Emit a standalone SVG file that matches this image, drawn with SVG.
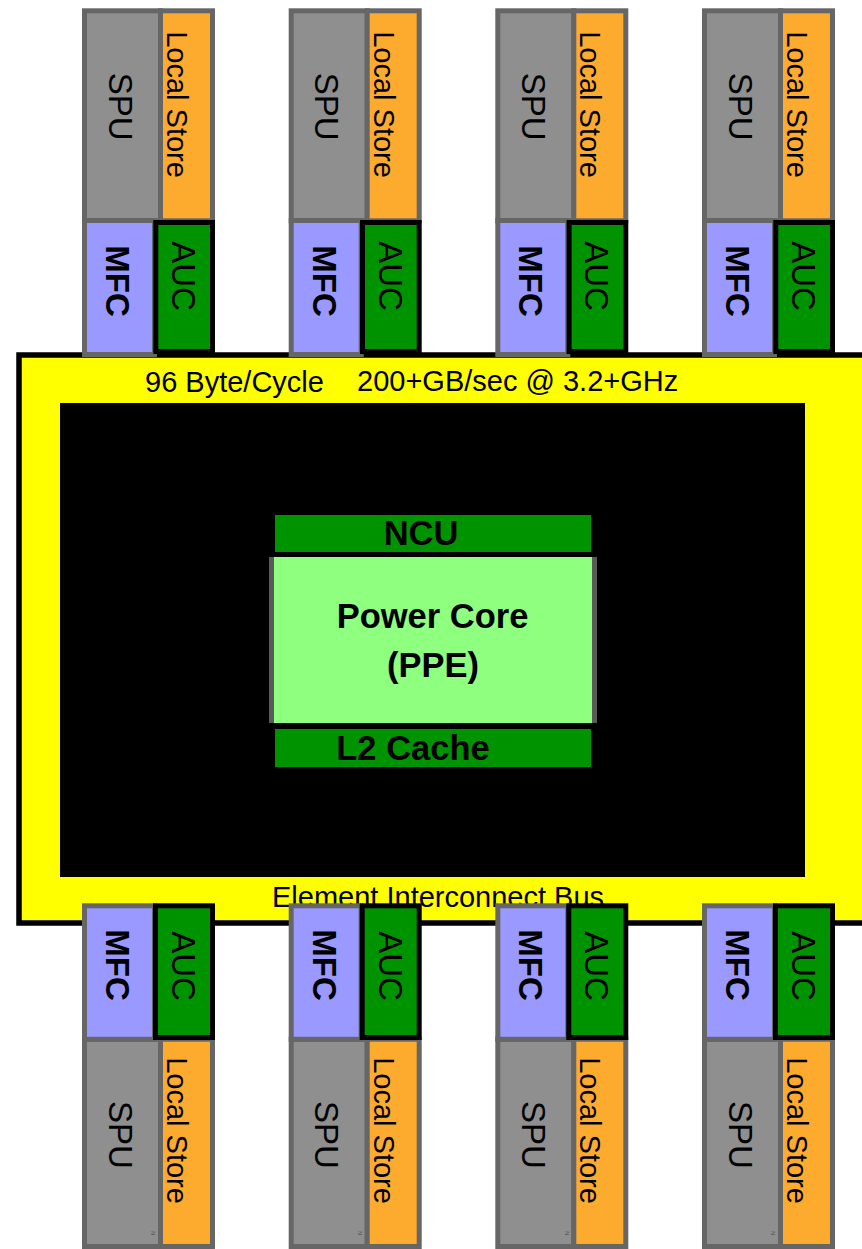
<svg xmlns="http://www.w3.org/2000/svg" width="862" height="1249" viewBox="0 0 862 1249">
<style>
.spu{fill:#8f8f8f;stroke:#666;stroke-width:5}
.ls{fill:#fdab2f;stroke:#666;stroke-width:5}
.mfc{fill:#9999ff;stroke:#666;stroke-width:5}
.auc{fill:#009300;stroke:#000;stroke-width:5}
.t{font-family:"Liberation Sans",Arial,sans-serif;fill:#000}
.big{font-size:33px}
.core{font-size:34.5px}
.mid{font-size:29px}
.b{font-weight:bold}
.tiny{font-family:"Liberation Sans",Arial,sans-serif;font-size:5px;fill:#444}
</style>
<rect width="862" height="1249" fill="#fff"/>
<g id="eib">
<rect x="19" y="355" width="860" height="568" fill="#ffff00" stroke="#000" stroke-width="5.5"/>
<rect x="60" y="403" width="745" height="474" fill="#000"/>
<text class="t mid" x="145" y="392">96 Byte/Cycle</text>
<text class="t mid" x="357" y="391">200+GB/sec @ 3.2+GHz</text>
<text class="t mid" x="272" y="907">Element Interconnect Bus</text>
</g>
<g id="ncu">
<rect x="275" y="515" width="316" height="37" fill="#009300"/>
<text class="t core b" x="421" y="545" text-anchor="middle">NCU</text>
</g>
<g id="ppe">
<rect x="274" y="557" width="318" height="166" fill="#8fff7f"/>
<rect x="269" y="557" width="5" height="166" fill="#5a5a5a"/>
<rect x="592" y="557" width="5" height="166" fill="#5a5a5a"/>
<text class="t core b" x="432.5" y="628" text-anchor="middle">Power Core</text>
<text class="t core b" x="433" y="677" text-anchor="middle">(PPE)</text>
</g>
<g id="l2">
<rect x="275" y="729" width="316" height="38" fill="#009300"/>
<text class="t core b" x="413" y="760" text-anchor="middle">L2 Cache</text>
</g>
<g id="connectors"/>
<g id="spe-top-1" transform="translate(0,0)">
<g id="spu-top-1"><rect class="spu" x="84.5" y="10.8" width="76" height="210"/><text class="t big" transform="translate(120.5,106.7) rotate(90)" y="11.8" text-anchor="middle">SPU</text></g>
<g id="ls-top-1"><rect class="ls" x="160.5" y="10.8" width="52" height="210"/><text class="t mid" transform="translate(177.5,104.5) rotate(90)" y="10.4" text-anchor="middle">Local Store</text></g>
<g id="mfc-top-1"><rect class="mfc" x="84.5" y="220.5" width="70" height="134"/><text class="t big b" transform="translate(118,281) rotate(90)" y="11.8" text-anchor="middle">MFC</text></g>
<g id="auc-top-1"><rect class="auc" x="155.8" y="222.5" width="56.7" height="129"/><text class="t big" transform="translate(184,276) rotate(90)" y="11.8" text-anchor="middle">AUC</text></g>
</g>
<g id="spe-top-2" transform="translate(206.7,0)">
<g id="spu-top-2"><rect class="spu" x="84.5" y="10.8" width="76" height="210"/><text class="t big" transform="translate(120.5,106.7) rotate(90)" y="11.8" text-anchor="middle">SPU</text></g>
<g id="ls-top-2"><rect class="ls" x="160.5" y="10.8" width="52" height="210"/><text class="t mid" transform="translate(177.5,104.5) rotate(90)" y="10.4" text-anchor="middle">Local Store</text></g>
<g id="mfc-top-2"><rect class="mfc" x="84.5" y="220.5" width="70" height="134"/><text class="t big b" transform="translate(118,281) rotate(90)" y="11.8" text-anchor="middle">MFC</text></g>
<g id="auc-top-2"><rect class="auc" x="155.8" y="222.5" width="56.7" height="129"/><text class="t big" transform="translate(184,276) rotate(90)" y="11.8" text-anchor="middle">AUC</text></g>
</g>
<g id="spe-top-3" transform="translate(413.3,0)">
<g id="spu-top-3"><rect class="spu" x="84.5" y="10.8" width="76" height="210"/><text class="t big" transform="translate(120.5,106.7) rotate(90)" y="11.8" text-anchor="middle">SPU</text></g>
<g id="ls-top-3"><rect class="ls" x="160.5" y="10.8" width="52" height="210"/><text class="t mid" transform="translate(177.5,104.5) rotate(90)" y="10.4" text-anchor="middle">Local Store</text></g>
<g id="mfc-top-3"><rect class="mfc" x="84.5" y="220.5" width="70" height="134"/><text class="t big b" transform="translate(118,281) rotate(90)" y="11.8" text-anchor="middle">MFC</text></g>
<g id="auc-top-3"><rect class="auc" x="155.8" y="222.5" width="56.7" height="129"/><text class="t big" transform="translate(184,276) rotate(90)" y="11.8" text-anchor="middle">AUC</text></g>
</g>
<g id="spe-top-4" transform="translate(620,0)">
<g id="spu-top-4"><rect class="spu" x="84.5" y="10.8" width="76" height="210"/><text class="t big" transform="translate(120.5,106.7) rotate(90)" y="11.8" text-anchor="middle">SPU</text></g>
<g id="ls-top-4"><rect class="ls" x="160.5" y="10.8" width="52" height="210"/><text class="t mid" transform="translate(177.5,104.5) rotate(90)" y="10.4" text-anchor="middle">Local Store</text></g>
<g id="mfc-top-4"><rect class="mfc" x="84.5" y="220.5" width="70" height="134"/><text class="t big b" transform="translate(118,281) rotate(90)" y="11.8" text-anchor="middle">MFC</text></g>
<g id="auc-top-4"><rect class="auc" x="155.8" y="222.5" width="56.7" height="129"/><text class="t big" transform="translate(184,276) rotate(90)" y="11.8" text-anchor="middle">AUC</text></g>
</g>
<g id="spe-bot-1" transform="translate(0,0)">
<g id="spu-bot-1"><rect class="spu" x="84.5" y="1039.2" width="76" height="207.3"/><text class="t big" transform="translate(120.5,1135) rotate(90)" y="11.8" text-anchor="middle">SPU</text><text class="tiny" transform="translate(153.3,1233) rotate(90)" y="1.8" text-anchor="middle">N</text></g>
<g id="ls-bot-1"><rect class="ls" x="160.5" y="1039.2" width="52" height="207.3"/><text class="t mid" transform="translate(177.5,1130.5) rotate(90)" y="10.4" text-anchor="middle">Local Store</text></g>
<g id="mfc-bot-1"><rect class="mfc" x="84.5" y="905.8" width="70" height="133.5"/><text class="t big b" transform="translate(118,965) rotate(90)" y="11.8" text-anchor="middle">MFC</text></g>
<g id="auc-bot-1"><rect class="auc" x="155.5" y="905.8" width="57" height="131.7"/><text class="t big" transform="translate(184,966) rotate(90)" y="11.8" text-anchor="middle">AUC</text></g>
</g>
<g id="spe-bot-2" transform="translate(206.7,0)">
<g id="spu-bot-2"><rect class="spu" x="84.5" y="1039.2" width="76" height="207.3"/><text class="t big" transform="translate(120.5,1135) rotate(90)" y="11.8" text-anchor="middle">SPU</text><text class="tiny" transform="translate(153.3,1233) rotate(90)" y="1.8" text-anchor="middle">N</text></g>
<g id="ls-bot-2"><rect class="ls" x="160.5" y="1039.2" width="52" height="207.3"/><text class="t mid" transform="translate(177.5,1130.5) rotate(90)" y="10.4" text-anchor="middle">Local Store</text></g>
<g id="mfc-bot-2"><rect class="mfc" x="84.5" y="905.8" width="70" height="133.5"/><text class="t big b" transform="translate(118,965) rotate(90)" y="11.8" text-anchor="middle">MFC</text></g>
<g id="auc-bot-2"><rect class="auc" x="155.5" y="905.8" width="57" height="131.7"/><text class="t big" transform="translate(184,966) rotate(90)" y="11.8" text-anchor="middle">AUC</text></g>
</g>
<g id="spe-bot-3" transform="translate(413.3,0)">
<g id="spu-bot-3"><rect class="spu" x="84.5" y="1039.2" width="76" height="207.3"/><text class="t big" transform="translate(120.5,1135) rotate(90)" y="11.8" text-anchor="middle">SPU</text><text class="tiny" transform="translate(153.3,1233) rotate(90)" y="1.8" text-anchor="middle">N</text></g>
<g id="ls-bot-3"><rect class="ls" x="160.5" y="1039.2" width="52" height="207.3"/><text class="t mid" transform="translate(177.5,1130.5) rotate(90)" y="10.4" text-anchor="middle">Local Store</text></g>
<g id="mfc-bot-3"><rect class="mfc" x="84.5" y="905.8" width="70" height="133.5"/><text class="t big b" transform="translate(118,965) rotate(90)" y="11.8" text-anchor="middle">MFC</text></g>
<g id="auc-bot-3"><rect class="auc" x="155.5" y="905.8" width="57" height="131.7"/><text class="t big" transform="translate(184,966) rotate(90)" y="11.8" text-anchor="middle">AUC</text></g>
</g>
<g id="spe-bot-4" transform="translate(620,0)">
<g id="spu-bot-4"><rect class="spu" x="84.5" y="1039.2" width="76" height="207.3"/><text class="t big" transform="translate(120.5,1135) rotate(90)" y="11.8" text-anchor="middle">SPU</text><text class="tiny" transform="translate(153.3,1233) rotate(90)" y="1.8" text-anchor="middle">N</text></g>
<g id="ls-bot-4"><rect class="ls" x="160.5" y="1039.2" width="52" height="207.3"/><text class="t mid" transform="translate(177.5,1130.5) rotate(90)" y="10.4" text-anchor="middle">Local Store</text></g>
<g id="mfc-bot-4"><rect class="mfc" x="84.5" y="905.8" width="70" height="133.5"/><text class="t big b" transform="translate(118,965) rotate(90)" y="11.8" text-anchor="middle">MFC</text></g>
<g id="auc-bot-4"><rect class="auc" x="155.5" y="905.8" width="57" height="131.7"/><text class="t big" transform="translate(184,966) rotate(90)" y="11.8" text-anchor="middle">AUC</text></g>
</g>
</svg>
